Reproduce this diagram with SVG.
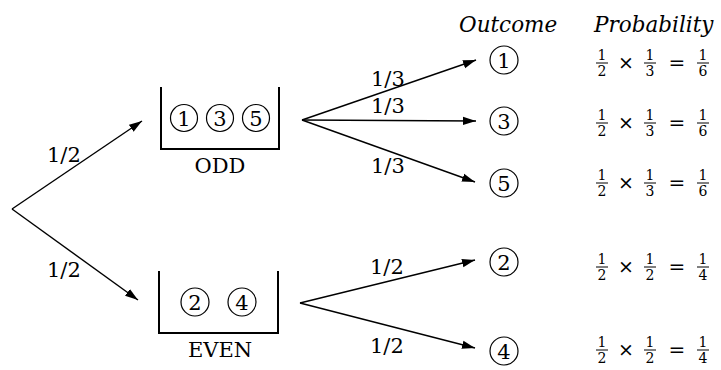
<svg xmlns="http://www.w3.org/2000/svg" width="721" height="370" viewBox="0 0 721 370">
<style>
text{font-family:"DejaVu Serif","Liberation Serif",serif;fill:#000}
.lbl{font-size:21px}
.num{font-size:21px;text-anchor:middle}
.hdr{font-size:21.5px;font-style:italic}
.fr{font-size:14px;text-anchor:middle}
.op{font-size:19px;text-anchor:middle}
.eq{font-size:20px;text-anchor:middle}
.c{fill:none;stroke:#000;stroke-width:1.2}
.box{fill:none;stroke:#000;stroke-width:2}
.edge{stroke:#000;stroke-width:1.4;fill:none;marker-end:url(#ah)}
.bar{stroke:#000;stroke-width:1}
</style>
<defs>
<marker id="ah" markerUnits="userSpaceOnUse" markerWidth="14" markerHeight="10" refX="13" refY="5" orient="auto">
<path d="M0,0.8 L13,5 L0,9.2 Z" fill="#000"/>
</marker>
</defs>
<rect width="721" height="370" fill="#fff"/>

<g id="connectors">
<line class="edge" x1="12" y1="209" x2="142" y2="121"/>
<line class="edge" x1="12" y1="209" x2="138" y2="300"/>
<line class="edge" x1="302" y1="120" x2="476" y2="60"/>
<line class="edge" x1="302" y1="120" x2="476" y2="121"/>
<line class="edge" x1="302" y1="120" x2="475" y2="182"/>
<line class="edge" x1="300" y1="303" x2="475" y2="260"/>
<line class="edge" x1="300" y1="303" x2="475" y2="348"/>
<text class="lbl" x="47" y="162">1/2</text>
<text class="lbl" x="47" y="277">1/2</text>
<text class="lbl" x="371" y="86">1/3</text>
<text class="lbl" x="371" y="113">1/3</text>
<text class="lbl" x="371" y="173">1/3</text>
<text class="lbl" x="370" y="274">1/2</text>
<text class="lbl" x="370" y="353">1/2</text>
</g>

<g id="odd">
<path class="box" d="M161,87 V149 H279 V87"/>
<circle class="c" cx="184" cy="118" r="13.5"/><text class="num" x="184" y="126">1</text>
<circle class="c" cx="220" cy="118" r="13.5"/><text class="num" x="220" y="126">3</text>
<circle class="c" cx="256" cy="118" r="13.5"/><text class="num" x="256" y="126">5</text>
<text class="num" x="220" y="173">ODD</text>
</g>

<g id="even">
<path class="box" d="M159,271 V333 H278 V271"/>
<circle class="c" cx="195" cy="302" r="14"/><text class="num" x="195" y="310">2</text>
<circle class="c" cx="242" cy="302" r="14"/><text class="num" x="242" y="310">4</text>
<text class="num" x="220" y="357">EVEN</text>
</g>

<g id="headers">
<text class="hdr" x="459" y="32">Outcome</text>
<text class="hdr" x="594" y="32">Probability</text>
</g>

<g id="outcome-1"><circle class="c" cx="504" cy="60" r="14"/><text class="num" x="504" y="68">1</text></g>
<g id="outcome-3"><circle class="c" cx="504" cy="121" r="14"/><text class="num" x="504" y="129">3</text></g>
<g id="outcome-5"><circle class="c" cx="504" cy="183" r="14"/><text class="num" x="504" y="191">5</text></g>
<g id="outcome-2"><circle class="c" cx="504" cy="262" r="14"/><text class="num" x="504" y="270">2</text></g>
<g id="outcome-4"><circle class="c" cx="504" cy="351" r="14"/><text class="num" x="504" y="359">4</text></g>

<g id="prob-1">
<text class="fr" x="602" y="60">1</text><line class="bar" x1="596" y1="63" x2="608" y2="63"/><text class="fr" x="602" y="76">2</text>
<text class="op" x="626" y="69">×</text>
<text class="fr" x="650" y="60">1</text><line class="bar" x1="644" y1="63" x2="656" y2="63"/><text class="fr" x="650" y="76">3</text>
<text class="eq" x="677" y="70">=</text>
<text class="fr" x="703" y="60">1</text><line class="bar" x1="697" y1="63" x2="709" y2="63"/><text class="fr" x="703" y="76">6</text>
</g>
<g id="prob-3">
<text class="fr" x="602" y="120">1</text><line class="bar" x1="596" y1="123" x2="608" y2="123"/><text class="fr" x="602" y="136">2</text>
<text class="op" x="626" y="129">×</text>
<text class="fr" x="650" y="120">1</text><line class="bar" x1="644" y1="123" x2="656" y2="123"/><text class="fr" x="650" y="136">3</text>
<text class="eq" x="677" y="130">=</text>
<text class="fr" x="703" y="120">1</text><line class="bar" x1="697" y1="123" x2="709" y2="123"/><text class="fr" x="703" y="136">6</text>
</g>
<g id="prob-5">
<text class="fr" x="602" y="180">1</text><line class="bar" x1="596" y1="183" x2="608" y2="183"/><text class="fr" x="602" y="196">2</text>
<text class="op" x="626" y="189">×</text>
<text class="fr" x="650" y="180">1</text><line class="bar" x1="644" y1="183" x2="656" y2="183"/><text class="fr" x="650" y="196">3</text>
<text class="eq" x="677" y="190">=</text>
<text class="fr" x="703" y="180">1</text><line class="bar" x1="697" y1="183" x2="709" y2="183"/><text class="fr" x="703" y="196">6</text>
</g>
<g id="prob-2">
<text class="fr" x="602" y="264">1</text><line class="bar" x1="596" y1="267" x2="608" y2="267"/><text class="fr" x="602" y="280">2</text>
<text class="op" x="626" y="273">×</text>
<text class="fr" x="650" y="264">1</text><line class="bar" x1="644" y1="267" x2="656" y2="267"/><text class="fr" x="650" y="280">2</text>
<text class="eq" x="677" y="274">=</text>
<text class="fr" x="703" y="264">1</text><line class="bar" x1="697" y1="267" x2="709" y2="267"/><text class="fr" x="703" y="280">4</text>
</g>
<g id="prob-4">
<text class="fr" x="602" y="347">1</text><line class="bar" x1="596" y1="350" x2="608" y2="350"/><text class="fr" x="602" y="363">2</text>
<text class="op" x="626" y="356">×</text>
<text class="fr" x="650" y="347">1</text><line class="bar" x1="644" y1="350" x2="656" y2="350"/><text class="fr" x="650" y="363">2</text>
<text class="eq" x="677" y="357">=</text>
<text class="fr" x="703" y="347">1</text><line class="bar" x1="697" y1="350" x2="709" y2="350"/><text class="fr" x="703" y="363">4</text>
</g>
</svg>
